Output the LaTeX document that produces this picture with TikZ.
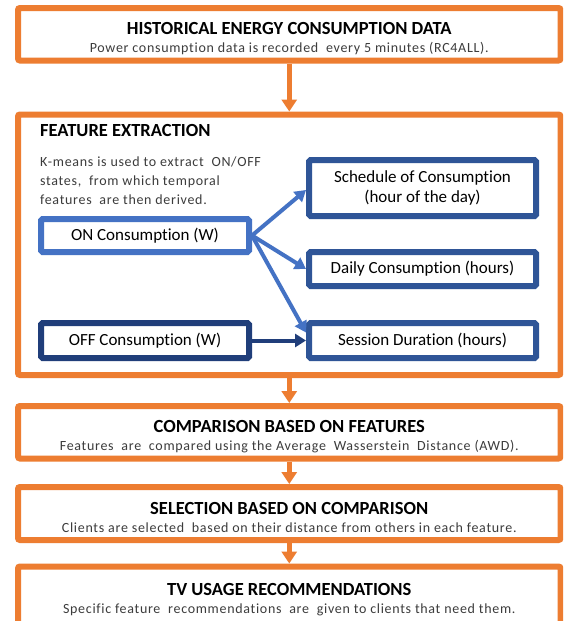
\documentclass[tikz,border=0pt]{standalone}
\usepackage{fontspec}
\setmainfont{Carlito}[Ligatures=NoCommon]
\usetikzlibrary{arrows.meta}
\definecolor{orng}{RGB}{237,125,49}
\definecolor{lblue}{RGB}{68,114,196}
\definecolor{dblue}{RGB}{47,85,151}
\definecolor{nblue}{RGB}{32,62,122}
\definecolor{txt}{RGB}{60,60,60}
\newcommand\ttlfnt{\color{black}\bfseries\fontsize{18.5}{22}\selectfont}
\newcommand\subfnt{\color{txt}\fontsize{14}{16}\selectfont\addfontfeature{LetterSpace=5}}
\newcommand\kmfnt{\color{txt}\fontsize{14}{19}\selectfont\addfontfeature{LetterSpace=5}}
\newcommand\topstrut{\rule{0pt}{20pt}}
\begin{document}
\begin{tikzpicture}[x=1pt,y=-1pt,
  obox/.style={draw=orng, line width=6pt, rounded corners=2pt, fill=white, align=center, inner sep=0pt, minimum width=542.5pt},
  bbox/.style={draw=#1, line width=6pt, rounded corners=1.5pt, fill=white, align=center, inner sep=0pt, font=\fontsize{17}{20}\selectfont},
  oarrow/.style={draw=orng, line width=5pt, -{Triangle[width=15pt,length=12pt]}},
  barrow/.style={draw=#1, line width=4pt, -{Triangle[width=13pt,length=11pt]}},
  plain/.style={inner sep=0pt, align=left}
]
\clip (0,0) rectangle (563,621);
\fill[white] (0,0) rectangle (563,621);

% orange process boxes
\node[obox, minimum height=52.5pt] (b1) at (289.25,34.25)
  {{\ttlfnt\topstrut HISTORICAL ENERGY CONSUMPTION DATA}\\[6pt]{\subfnt Power consumption data is recorded \ every 5 minutes (RC4ALL).}};
\node[obox, minimum height=260.5pt] (b2) at (289.25,244.75) {};
\node[obox, minimum height=52.5pt] (b3) at (289.25,432.25)
  {{\ttlfnt\topstrut COMPARISON BASED ON FEATURES}\\[6pt]{\subfnt Features \ are \ compared using the Average \ Wasserstein \ Distance (AWD).}};
\node[obox, minimum height=53pt] (b4) at (289.25,513.5)
  {{\ttlfnt\topstrut SELECTION BASED ON COMPARISON}\\[6pt]{\subfnt Clients are selected \ based on their distance from others in each feature.}};
\node[obox, minimum height=57.5pt] (b5) at (289.25,595.25)
  {{\ttlfnt\topstrut TV USAGE RECOMMENDATIONS}\\[6pt]{\subfnt Specific feature \ recommendations \ are \ given to clients that need them.}};

\draw[oarrow] (b1.south) -- (b2.north);
\draw[oarrow] (b2.south) -- (b3.north);
\draw[oarrow] (b3.south) -- (b4.north);
\draw[oarrow] (b4.south) -- (b5.north);

% feature extraction content
\node[plain, anchor=west, font=\ttlfnt] (fe) at (40,130) {FEATURE EXTRACTION};
\node[plain, anchor=north west, font=\kmfnt, text=txt] (km) at (40,157)
  {K-means is used to extract \ ON/OFF\\states, \ from which temporal\\features \ are then derived.};

\node[bbox=lblue, minimum width=208pt, minimum height=33pt] (on) at (145,235.5) {ON Consumption (W)};
\node[bbox=nblue, minimum width=208pt, minimum height=35pt] (off) at (145,340.5) {OFF Consumption (W)};
\node[bbox=dblue, minimum width=227pt, minimum height=56pt] (sch) at (422.5,188) {Schedule of Consumption\\(hour of the day)};
\node[bbox=dblue, minimum width=227pt, minimum height=34pt] (day) at (422.5,269) {Daily Consumption (hours)};
\node[bbox=dblue, minimum width=227pt, minimum height=35pt] (ses) at (422.5,340.5) {Session Duration (hours)};

\draw[barrow=lblue] (on.east) -- ([yshift=-2pt]sch.west);
\draw[barrow=lblue] (on.east) -- (day.west);
\draw[barrow=lblue] (on.east) -- ([yshift=8pt]ses.west);
\draw[barrow=nblue] (off.east) -- (ses.west);
\end{tikzpicture}
\end{document}
